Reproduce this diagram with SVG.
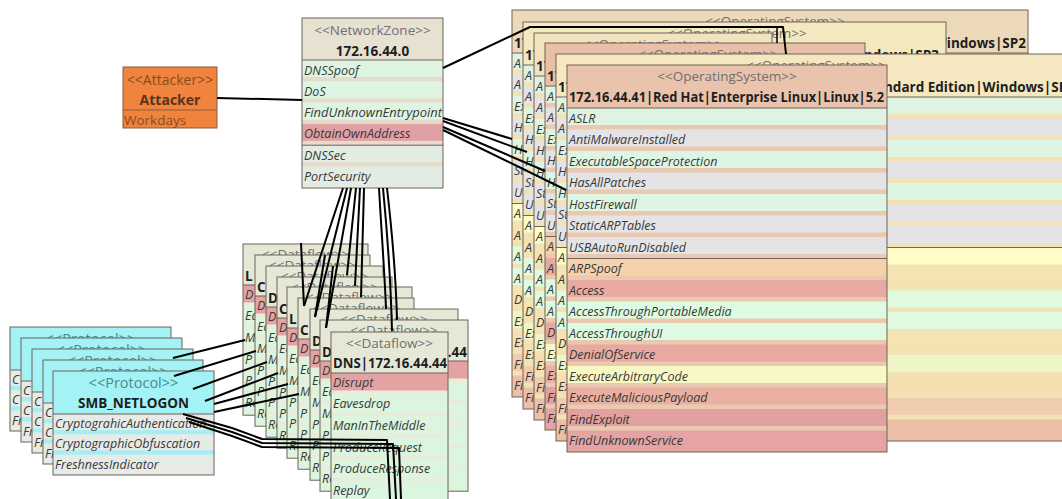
<svg xmlns="http://www.w3.org/2000/svg" width="1062" height="499" viewBox="0 0 1062 499">
<style>
text{font-family:"Open Sans","Noto Sans","DejaVu Sans",sans-serif}
.bd{fill:none;stroke:#6e6259;stroke-width:1}
.dv{stroke:#6e6259;stroke-width:1}
.st{font-size:13.5px;fill:#707070;text-anchor:middle}
.nm{font-size:13.5px;font-weight:bold;fill:#1e1e1e}
.ri{font-size:12.5px;font-style:italic;fill:#383838}
.ln{fill:none;stroke:#000;stroke-width:2;stroke-linejoin:round}
.r0{fill:#dff3e2}.r1,.r3,.r5,.r6{fill:#e4e4e6}.r2,.r4{fill:#dff5e3}
.win .bg{fill:#f2e3b6}.lin .bg{fill:#ebc9b1}
.win .r7{fill:#fffcc6}.win .r8,.win .r11{fill:#f5e3b2}.win .r9,.win .r10{fill:#dffadf}.win .r12{fill:#eef6c8}.win .r13{fill:#f5deb0}.win .r14{fill:#f0cdae}.win .r15{fill:#ebbfa8}
.lin .r7{fill:#f3d2ac}.lin .r8,.lin .r11{fill:#e8aaa0}.lin .r9,.lin .r10{fill:#dcfbe2}.lin .r12{fill:#f8f8c4}.lin .r13{fill:#e9b0a2}.lin .r14{fill:#e2a0a0}.lin .r15{fill:#e5a3a3}
.df .bg{fill:#e7ecdb}.df .hd{fill:#e5e8d6}.df .rr{fill:#e3a3a3}.df .rg{fill:#dcf5df}
.pr .bg{fill:#a6eef2}.pr .hd{fill:#a2f2f6}.pr .rw{fill:#e6ebe7}
.pst{font-size:14.5px;fill:#4d8a8a;text-anchor:middle}
</style>
<defs>
<clipPath id="p5clip"><rect x="53" y="371" width="160" height="104"/></clipPath>
<clipPath id="cO1"><rect x="512" y="10" width="516" height="12"/></clipPath>
<clipPath id="cO2"><path d="M523,22 H946 V54 H772 V33 H523 Z"/></clipPath>
<clipPath id="cO3"><rect x="534" y="33" width="238" height="10"/></clipPath>
<clipPath id="cO4"><rect x="545" y="43" width="320" height="11"/></clipPath>
<clipPath id="cO5"><rect x="556" y="54" width="520" height="11"/></clipPath>
<clipPath id="cD1"><rect x="243" y="244" width="125" height="11"/></clipPath>
<clipPath id="cD2"><rect x="255" y="255" width="115" height="11"/></clipPath>
<clipPath id="cD3"><rect x="266" y="266" width="117" height="11"/></clipPath>
<clipPath id="cD4"><rect x="277" y="277" width="115" height="10"/></clipPath>
<clipPath id="cD5"><rect x="287" y="287" width="125" height="11"/></clipPath>
<clipPath id="cD6"><rect x="298" y="298" width="116" height="11"/></clipPath>
<clipPath id="cD7"><rect x="310" y="309" width="148" height="11"/></clipPath>
<clipPath id="cD8"><rect x="320" y="320" width="148" height="12"/></clipPath>
<clipPath id="cP1"><rect x="10" y="327" width="161" height="11"/></clipPath>
<clipPath id="cP2"><rect x="21" y="338" width="161" height="11"/></clipPath>
<clipPath id="cP3"><rect x="32" y="349" width="161" height="11"/></clipPath>
<clipPath id="cP4"><rect x="43" y="360" width="160" height="11"/></clipPath>
</defs>
<rect width="1062" height="499" fill="#fff"/>

<g id="os1" class="win">
<rect class="bg" x="512" y="10" width="516" height="387"/>
<rect x="512" y="10" width="516" height="43" fill="#ecd9ba"/>
<rect class="r0" x="512" y="53" width="516" height="17"/>
<rect class="r1" x="512" y="74.5" width="516" height="17"/>
<rect class="r2" x="512" y="96" width="516" height="17"/>
<rect class="r3" x="512" y="117.5" width="516" height="17"/>
<rect class="r4" x="512" y="139" width="516" height="17"/>
<rect class="r5" x="512" y="160.5" width="516" height="17"/>
<rect class="r6" x="512" y="182" width="516" height="17"/>
<rect class="r7" x="512" y="203.5" width="516" height="17"/>
<rect class="r8" x="512" y="225" width="516" height="17"/>
<rect class="r9" x="512" y="246.5" width="516" height="17"/>
<rect class="r10" x="512" y="268" width="516" height="17"/>
<rect class="r11" x="512" y="289.5" width="516" height="17"/>
<rect class="r12" x="512" y="311" width="516" height="17"/>
<rect class="r13" x="512" y="332.5" width="516" height="17"/>
<rect class="r14" x="512" y="354" width="516" height="17"/>
<rect class="r15" x="512" y="375.5" width="516" height="21.5"/>
<line class="dv" x1="512" y1="53" x2="1028" y2="53"/>
<line class="dv" x1="512" y1="203.5" x2="1028" y2="203.5"/>
<rect class="bd" x="512" y="10" width="516" height="387"/>
<text class="st" x="775" y="26" font-size="14" clip-path="url(#cO1)">&lt;&lt;OperatingSystem&gt;&gt;</text>
<text class="nm" x="514" y="48">17</text>
<text class="nm" x="1026" y="48" text-anchor="end" font-size="14">Windows|SP2</text>
<text class="ri" x="514" y="67.5">A</text><text class="ri" x="514" y="89">A</text><text class="ri" x="514" y="110.5">Ex</text><text class="ri" x="514" y="132">H</text><text class="ri" x="514" y="153.5">H</text><text class="ri" x="514" y="175">St</text><text class="ri" x="514" y="196.5">U</text><text class="ri" x="514" y="218">A</text><text class="ri" x="514" y="239.5">A</text><text class="ri" x="514" y="261">A</text><text class="ri" x="514" y="282.5">A</text><text class="ri" x="514" y="304">D</text><text class="ri" x="514" y="325.5">Ex</text><text class="ri" x="514" y="347">Ex</text><text class="ri" x="514" y="368.5">Fi</text><text class="ri" x="514" y="390">Fi</text>
</g>

<g id="os2" class="win">
<rect class="bg" x="523" y="22" width="423" height="387"/>
<rect x="523" y="22" width="423" height="43" fill="#f4e8bf"/>
<rect class="r0" x="523" y="65" width="423" height="17"/>
<rect class="r1" x="523" y="86.5" width="423" height="17"/>
<rect class="r2" x="523" y="108" width="423" height="17"/>
<rect class="r3" x="523" y="129.5" width="423" height="17"/>
<rect class="r4" x="523" y="151" width="423" height="17"/>
<rect class="r5" x="523" y="172.5" width="423" height="17"/>
<rect class="r6" x="523" y="194" width="423" height="17"/>
<rect class="r7" x="523" y="215.5" width="423" height="17"/>
<rect class="r8" x="523" y="237" width="423" height="17"/>
<rect class="r9" x="523" y="258.5" width="423" height="17"/>
<rect class="r10" x="523" y="280" width="423" height="17"/>
<rect class="r11" x="523" y="301.5" width="423" height="17"/>
<rect class="r12" x="523" y="323" width="423" height="17"/>
<rect class="r13" x="523" y="344.5" width="423" height="17"/>
<rect class="r14" x="523" y="366" width="423" height="17"/>
<rect class="r15" x="523" y="387.5" width="423" height="21.5"/>
<line class="dv" x1="523" y1="65" x2="946" y2="65"/>
<line class="dv" x1="523" y1="215.5" x2="946" y2="215.5"/>
<rect class="bd" x="523" y="22" width="423" height="387"/>
<text class="st" x="737" y="38" font-size="14" clip-path="url(#cO2)">&lt;&lt;OperatingSystem&gt;&gt;</text>
<text class="nm" x="525" y="60">17</text>
<text class="nm" x="939" y="60" text-anchor="end" font-size="14">Windows|SP3</text>
<text class="ri" x="525" y="79.5">A</text><text class="ri" x="525" y="101">A</text><text class="ri" x="525" y="122.5">Ex</text><text class="ri" x="525" y="144">H</text><text class="ri" x="525" y="165.5">H</text><text class="ri" x="525" y="187">St</text><text class="ri" x="525" y="208.5">U</text><text class="ri" x="525" y="230">A</text><text class="ri" x="525" y="251.5">A</text><text class="ri" x="525" y="273">A</text><text class="ri" x="525" y="294.5">A</text><text class="ri" x="525" y="316">D</text><text class="ri" x="525" y="337.5">Ex</text><text class="ri" x="525" y="359">Ex</text><text class="ri" x="525" y="380.5">Fi</text><text class="ri" x="525" y="402">Fi</text>
</g>

<g id="os3" class="win">
<rect class="bg" x="534" y="33" width="238" height="387"/>
<rect x="534" y="33" width="238" height="43" fill="#f1e3bd"/>
<rect class="r0" x="534" y="76" width="238" height="17"/>
<rect class="r1" x="534" y="97.5" width="238" height="17"/>
<rect class="r2" x="534" y="119" width="238" height="17"/>
<rect class="r3" x="534" y="140.5" width="238" height="17"/>
<rect class="r4" x="534" y="162" width="238" height="17"/>
<rect class="r5" x="534" y="183.5" width="238" height="17"/>
<rect class="r6" x="534" y="205" width="238" height="17"/>
<rect class="r7" x="534" y="226.5" width="238" height="17"/>
<rect class="r8" x="534" y="248" width="238" height="17"/>
<rect class="r9" x="534" y="269.5" width="238" height="17"/>
<rect class="r10" x="534" y="291" width="238" height="17"/>
<rect class="r11" x="534" y="312.5" width="238" height="17"/>
<rect class="r12" x="534" y="334" width="238" height="17"/>
<rect class="r13" x="534" y="355.5" width="238" height="17"/>
<rect class="r14" x="534" y="377" width="238" height="17"/>
<rect class="r15" x="534" y="398.5" width="238" height="21.5"/>
<line class="dv" x1="534" y1="76" x2="772" y2="76"/>
<line class="dv" x1="534" y1="226.5" x2="772" y2="226.5"/>
<rect class="bd" x="534" y="33" width="238" height="387"/>
<text class="st" x="653" y="49" font-size="14" clip-path="url(#cO3)">&lt;&lt;OperatingSystem&gt;&gt;</text>
<text class="nm" x="536" y="71">17</text>
<text class="ri" x="536" y="90.5">A</text><text class="ri" x="536" y="112">A</text><text class="ri" x="536" y="133.5">Ex</text><text class="ri" x="536" y="155">H</text><text class="ri" x="536" y="176.5">H</text><text class="ri" x="536" y="198">St</text><text class="ri" x="536" y="219.5">U</text><text class="ri" x="536" y="241">A</text><text class="ri" x="536" y="262.5">A</text><text class="ri" x="536" y="284">A</text><text class="ri" x="536" y="305.5">A</text><text class="ri" x="536" y="327">D</text><text class="ri" x="536" y="348.5">Ex</text><text class="ri" x="536" y="370">Ex</text><text class="ri" x="536" y="391.5">Fi</text><text class="ri" x="536" y="413">Fi</text>
</g>

<g id="os4" class="lin">
<rect class="bg" x="545" y="43" width="320" height="387"/>
<rect x="545" y="43" width="320" height="43" fill="#e8c0a8"/>
<rect class="r0" x="545" y="86" width="320" height="17"/>
<rect class="r1" x="545" y="107.5" width="320" height="17"/>
<rect class="r2" x="545" y="129" width="320" height="17"/>
<rect class="r3" x="545" y="150.5" width="320" height="17"/>
<rect class="r4" x="545" y="172" width="320" height="17"/>
<rect class="r5" x="545" y="193.5" width="320" height="17"/>
<rect class="r6" x="545" y="215" width="320" height="17"/>
<rect class="r7" x="545" y="236.5" width="320" height="17"/>
<rect class="r8" x="545" y="258" width="320" height="17"/>
<rect class="r9" x="545" y="279.5" width="320" height="17"/>
<rect class="r10" x="545" y="301" width="320" height="17"/>
<rect class="r11" x="545" y="322.5" width="320" height="17"/>
<rect class="r12" x="545" y="344" width="320" height="17"/>
<rect class="r13" x="545" y="365.5" width="320" height="17"/>
<rect class="r14" x="545" y="387" width="320" height="17"/>
<rect class="r15" x="545" y="408.5" width="320" height="21.5"/>
<line class="dv" x1="545" y1="86" x2="865" y2="86"/>
<line class="dv" x1="545" y1="236.5" x2="865" y2="236.5"/>
<rect class="bd" x="545" y="43" width="320" height="387"/>
<text class="st" x="708" y="59" font-size="14" clip-path="url(#cO4)">&lt;&lt;OperatingSystem&gt;&gt;</text>
<text class="nm" x="547" y="81">17</text>
<text class="ri" x="547" y="100.5">A</text><text class="ri" x="547" y="122">A</text><text class="ri" x="547" y="143.5">Ex</text><text class="ri" x="547" y="165">H</text><text class="ri" x="547" y="186.5">H</text><text class="ri" x="547" y="208">St</text><text class="ri" x="547" y="229.5">U</text><text class="ri" x="547" y="251">A</text><text class="ri" x="547" y="272.5">A</text><text class="ri" x="547" y="294">A</text><text class="ri" x="547" y="315.5">A</text><text class="ri" x="547" y="337">D</text><text class="ri" x="547" y="358.5">Ex</text><text class="ri" x="547" y="380">Ex</text><text class="ri" x="547" y="401.5">Fi</text><text class="ri" x="547" y="423">Fi</text>
</g>

<g id="os5" class="win">
<rect class="bg" x="556" y="54" width="520" height="387"/>
<rect x="556" y="54" width="520" height="43" fill="#f5e8c0"/>
<rect class="r0" x="556" y="97" width="520" height="17"/>
<rect class="r1" x="556" y="118.5" width="520" height="17"/>
<rect class="r2" x="556" y="140" width="520" height="17"/>
<rect class="r3" x="556" y="161.5" width="520" height="17"/>
<rect class="r4" x="556" y="183" width="520" height="17"/>
<rect class="r5" x="556" y="204.5" width="520" height="17"/>
<rect class="r6" x="556" y="226" width="520" height="17"/>
<rect class="r7" x="556" y="247.5" width="520" height="17"/>
<rect class="r8" x="556" y="269" width="520" height="17"/>
<rect class="r9" x="556" y="290.5" width="520" height="17"/>
<rect class="r10" x="556" y="312" width="520" height="17"/>
<rect class="r11" x="556" y="333.5" width="520" height="17"/>
<rect class="r12" x="556" y="355" width="520" height="17"/>
<rect class="r13" x="556" y="376.5" width="520" height="17"/>
<rect class="r14" x="556" y="398" width="520" height="17"/>
<rect class="r15" x="556" y="419.5" width="520" height="21.5"/>
<line class="dv" x1="556" y1="97" x2="1076" y2="97"/>
<line class="dv" x1="556" y1="247.5" x2="1076" y2="247.5"/>
<rect class="bd" x="556" y="54" width="520" height="387"/>
<text class="st" x="816" y="70" font-size="14" clip-path="url(#cO5)">&lt;&lt;OperatingSystem&gt;&gt;</text>
<text class="nm" x="558" y="92">17</text>
<text class="nm" x="884" y="92" font-size="14.5">ndard Edition|Windows|SP</text>
<text class="ri" x="558" y="111.5">A</text><text class="ri" x="558" y="133">A</text><text class="ri" x="558" y="154.5">Ex</text><text class="ri" x="558" y="176">H</text><text class="ri" x="558" y="197.5">H</text><text class="ri" x="558" y="219">St</text><text class="ri" x="558" y="240.5">U</text><text class="ri" x="558" y="262">A</text><text class="ri" x="558" y="283.5">A</text><text class="ri" x="558" y="305">A</text><text class="ri" x="558" y="326.5">A</text><text class="ri" x="558" y="348">D</text><text class="ri" x="558" y="369.5">Ex</text><text class="ri" x="558" y="391">Ex</text><text class="ri" x="558" y="412.5">Fi</text><text class="ri" x="558" y="434">Fi</text>
</g>

<g id="os-main" class="lin">
<rect class="bg" x="567" y="65" width="320" height="387"/>
<rect x="567" y="65" width="320" height="43" fill="#e9c3ab"/>
<rect class="r0" x="567" y="108" width="320" height="17"/>
<rect class="r1" x="567" y="129.5" width="320" height="17"/>
<rect class="r2" x="567" y="151" width="320" height="17"/>
<rect class="r3" x="567" y="172.5" width="320" height="17"/>
<rect class="r4" x="567" y="194" width="320" height="17"/>
<rect class="r5" x="567" y="215.5" width="320" height="17"/>
<rect class="r6" x="567" y="237" width="320" height="17"/>
<rect class="r7" x="567" y="258.5" width="320" height="17"/>
<rect class="r8" x="567" y="280" width="320" height="17"/>
<rect class="r9" x="567" y="301.5" width="320" height="17"/>
<rect class="r10" x="567" y="323" width="320" height="17"/>
<rect class="r11" x="567" y="344.5" width="320" height="17"/>
<rect class="r12" x="567" y="366" width="320" height="17"/>
<rect class="r13" x="567" y="387.5" width="320" height="17"/>
<rect class="r14" x="567" y="409" width="320" height="17"/>
<rect class="r15" x="567" y="430.5" width="320" height="21.5"/>
<line class="dv" x1="567" y1="108" x2="887" y2="108"/>
<line class="dv" x1="567" y1="258.5" x2="887" y2="258.5"/>
<rect class="bd" x="567" y="65" width="320" height="387" stroke="#4e4540"/>
<text class="st" x="727" y="81" font-size="14.5">&lt;&lt;OperatingSystem&gt;&gt;</text>
<text class="nm" x="569" y="102" font-size="14" textLength="315" lengthAdjust="spacingAndGlyphs">172.16.44.41|Red Hat|Enterprise Linux|Linux|5.2</text>
<text class="ri" x="569" y="122.5">ASLR</text>
<text class="ri" x="569" y="144">AntiMalwareInstalled</text>
<text class="ri" x="569" y="165.5">ExecutableSpaceProtection</text>
<text class="ri" x="569" y="187">HasAllPatches</text>
<text class="ri" x="569" y="208.5">HostFirewall</text>
<text class="ri" x="569" y="230">StaticARPTables</text>
<text class="ri" x="569" y="251.5">USBAutoRunDisabled</text>
<text class="ri" x="569" y="273">ARPSpoof</text>
<text class="ri" x="569" y="294.5">Access</text>
<text class="ri" x="569" y="316">AccessThroughPortableMedia</text>
<text class="ri" x="569" y="337.5">AccessThroughUI</text>
<text class="ri" x="569" y="359">DenialOfService</text>
<text class="ri" x="569" y="380.5">ExecuteArbitraryCode</text>
<text class="ri" x="569" y="402">ExecuteMaliciousPayload</text>
<text class="ri" x="569" y="423.5">FindExploit</text>
<text class="ri" x="569" y="445">FindUnknownService</text>
</g>

<g id="df1" class="df">
<rect class="bg" x="243" y="244" width="125" height="171.2"/><rect class="hd" x="243" y="244" width="125" height="41"/>
<rect class="rr" x="243" y="285" width="125" height="17.5"/><rect class="rg" x="243" y="306.7" width="125" height="17.5"/><rect class="rg" x="243" y="328.4" width="125" height="17.5"/><rect class="rg" x="243" y="350.1" width="125" height="17.5"/><rect class="rg" x="243" y="371.8" width="125" height="17.5"/><rect class="rg" x="243" y="393.5" width="125" height="21.7"/>
<line class="dv" x1="243" y1="285" x2="368" y2="285"/><rect class="bd" x="243" y="244" width="125" height="171.2"/>
<text class="st" x="305.5" y="259" font-size="14" clip-path="url(#cD1)">&lt;&lt;Dataflow&gt;&gt;</text><text class="nm" x="245" y="281" font-size="14.5">L</text>
<text class="ri" x="245" y="298.5">D</text><text class="ri" x="245" y="320.2">Ea</text><text class="ri" x="245" y="341.9">M</text><text class="ri" x="245" y="363.6">P</text><text class="ri" x="245" y="385.3">P</text><text class="ri" x="245" y="407">Re</text>
</g>
<g id="df2" class="df">
<rect class="bg" x="255" y="255" width="115" height="171.2"/><rect class="hd" x="255" y="255" width="115" height="41"/>
<rect class="rr" x="255" y="296" width="115" height="17.5"/><rect class="rg" x="255" y="317.7" width="115" height="17.5"/><rect class="rg" x="255" y="339.4" width="115" height="17.5"/><rect class="rg" x="255" y="361.1" width="115" height="17.5"/><rect class="rg" x="255" y="382.8" width="115" height="17.5"/><rect class="rg" x="255" y="404.5" width="115" height="21.7"/>
<line class="dv" x1="255" y1="296" x2="370" y2="296"/><rect class="bd" x="255" y="255" width="115" height="171.2"/>
<text class="st" x="312.5" y="270" font-size="14" clip-path="url(#cD2)">&lt;&lt;Dataflow&gt;&gt;</text><text class="nm" x="257" y="292" font-size="14.5">C</text>
<text class="ri" x="257" y="309.5">D</text><text class="ri" x="257" y="331.2">Ea</text><text class="ri" x="257" y="352.9">M</text><text class="ri" x="257" y="374.6">P</text><text class="ri" x="257" y="396.3">P</text><text class="ri" x="257" y="418">Re</text>
</g>
<g id="df3" class="df">
<rect class="bg" x="266" y="266" width="117" height="171.2"/><rect class="hd" x="266" y="266" width="117" height="41"/>
<rect class="rr" x="266" y="307" width="117" height="17.5"/><rect class="rg" x="266" y="328.7" width="117" height="17.5"/><rect class="rg" x="266" y="350.4" width="117" height="17.5"/><rect class="rg" x="266" y="372.1" width="117" height="17.5"/><rect class="rg" x="266" y="393.8" width="117" height="17.5"/><rect class="rg" x="266" y="415.5" width="117" height="21.7"/>
<line class="dv" x1="266" y1="307" x2="383" y2="307"/><rect class="bd" x="266" y="266" width="117" height="171.2"/>
<text class="st" x="324.5" y="281" font-size="14" clip-path="url(#cD3)">&lt;&lt;Dataflow&gt;&gt;</text><text class="nm" x="268" y="303" font-size="14.5">D</text>
<text class="ri" x="268" y="320.5">D</text><text class="ri" x="268" y="342.2">Ea</text><text class="ri" x="268" y="363.9">M</text><text class="ri" x="268" y="385.6">P</text><text class="ri" x="268" y="407.3">P</text><text class="ri" x="268" y="429">Re</text>
</g>
<g id="df4" class="df">
<rect class="bg" x="277" y="277" width="115" height="171.2"/><rect class="hd" x="277" y="277" width="115" height="41"/>
<rect class="rr" x="277" y="318" width="115" height="17.5"/><rect class="rg" x="277" y="339.7" width="115" height="17.5"/><rect class="rg" x="277" y="361.4" width="115" height="17.5"/><rect class="rg" x="277" y="383.1" width="115" height="17.5"/><rect class="rg" x="277" y="404.8" width="115" height="17.5"/><rect class="rg" x="277" y="426.5" width="115" height="21.7"/>
<line class="dv" x1="277" y1="318" x2="392" y2="318"/><rect class="bd" x="277" y="277" width="115" height="171.2"/>
<text class="st" x="334.5" y="292" font-size="14" clip-path="url(#cD4)">&lt;&lt;Dataflow&gt;&gt;</text><text class="nm" x="279" y="314" font-size="14.5">C</text>
<text class="ri" x="279" y="331.5">D</text><text class="ri" x="279" y="353.2">Ea</text><text class="ri" x="279" y="374.9">M</text><text class="ri" x="279" y="396.6">P</text><text class="ri" x="279" y="418.3">P</text><text class="ri" x="279" y="440">Re</text>
</g>
<g id="df5" class="df">
<rect class="bg" x="287" y="287" width="125" height="171.2"/><rect class="hd" x="287" y="287" width="125" height="41"/>
<rect class="rr" x="287" y="328" width="125" height="17.5"/><rect class="rg" x="287" y="349.7" width="125" height="17.5"/><rect class="rg" x="287" y="371.4" width="125" height="17.5"/><rect class="rg" x="287" y="393.1" width="125" height="17.5"/><rect class="rg" x="287" y="414.8" width="125" height="17.5"/><rect class="rg" x="287" y="436.5" width="125" height="21.7"/>
<line class="dv" x1="287" y1="328" x2="412" y2="328"/><rect class="bd" x="287" y="287" width="125" height="171.2"/>
<text class="st" x="349.5" y="302" font-size="14" clip-path="url(#cD5)">&lt;&lt;Dataflow&gt;&gt;</text><text class="nm" x="289" y="324" font-size="14.5">L</text>
<text class="ri" x="289" y="341.5">D</text><text class="ri" x="289" y="363.2">Ea</text><text class="ri" x="289" y="384.9">M</text><text class="ri" x="289" y="406.6">P</text><text class="ri" x="289" y="428.3">P</text><text class="ri" x="289" y="450">Re</text>
</g>
<g id="df6" class="df">
<rect class="bg" x="298" y="298" width="116" height="171.2"/><rect class="hd" x="298" y="298" width="116" height="41"/>
<rect class="rr" x="298" y="339" width="116" height="17.5"/><rect class="rg" x="298" y="360.7" width="116" height="17.5"/><rect class="rg" x="298" y="382.4" width="116" height="17.5"/><rect class="rg" x="298" y="404.1" width="116" height="17.5"/><rect class="rg" x="298" y="425.8" width="116" height="17.5"/><rect class="rg" x="298" y="447.5" width="116" height="21.7"/>
<line class="dv" x1="298" y1="339" x2="414" y2="339"/><rect class="bd" x="298" y="298" width="116" height="171.2"/>
<text class="st" x="356" y="313" font-size="14" clip-path="url(#cD6)">&lt;&lt;Dataflow&gt;&gt;</text><text class="nm" x="300" y="335" font-size="14.5">C</text>
<text class="ri" x="300" y="352.5">D</text><text class="ri" x="300" y="374.2">Ea</text><text class="ri" x="300" y="395.9">M</text><text class="ri" x="300" y="417.6">P</text><text class="ri" x="300" y="439.3">P</text><text class="ri" x="300" y="461">Re</text>
</g>
<g id="df7" class="df">
<rect class="bg" x="310" y="309" width="148" height="171.2"/><rect class="hd" x="310" y="309" width="148" height="41"/>
<rect class="rr" x="310" y="350" width="148" height="17.5"/><rect class="rg" x="310" y="371.7" width="148" height="17.5"/><rect class="rg" x="310" y="393.4" width="148" height="17.5"/><rect class="rg" x="310" y="415.1" width="148" height="17.5"/><rect class="rg" x="310" y="436.8" width="148" height="17.5"/><rect class="rg" x="310" y="458.5" width="148" height="21.7"/>
<line class="dv" x1="310" y1="350" x2="458" y2="350"/><rect class="bd" x="310" y="309" width="148" height="171.2"/>
<text class="st" x="384" y="324" font-size="14" clip-path="url(#cD7)">&lt;&lt;Dataflow&gt;&gt;</text><text class="nm" x="312" y="346" font-size="14.5">D</text>
<text class="ri" x="312" y="363.5">D</text><text class="ri" x="312" y="385.2">Ea</text><text class="ri" x="312" y="406.9">M</text><text class="ri" x="312" y="428.6">P</text><text class="ri" x="312" y="450.3">P</text><text class="ri" x="312" y="472">Re</text>
</g>
<g id="df8" class="df">
<rect class="bg" x="320" y="320" width="148" height="171.2"/><rect class="hd" x="320" y="320" width="148" height="41"/>
<rect class="rr" x="320" y="361" width="148" height="17.5"/><rect class="rg" x="320" y="382.7" width="148" height="17.5"/><rect class="rg" x="320" y="404.4" width="148" height="17.5"/><rect class="rg" x="320" y="426.1" width="148" height="17.5"/><rect class="rg" x="320" y="447.8" width="148" height="17.5"/><rect class="rg" x="320" y="469.5" width="148" height="21.7"/>
<line class="dv" x1="320" y1="361" x2="468" y2="361"/><rect class="bd" x="320" y="320" width="148" height="171.2"/>
<text class="st" x="394" y="335" font-size="14" clip-path="url(#cD8)">&lt;&lt;Dataflow&gt;&gt;</text><text class="nm" x="322" y="357" font-size="14.5">D</text><text class="nm" x="467" y="357" font-size="14.5" text-anchor="end">.44</text>
<text class="ri" x="322" y="374.5">D</text><text class="ri" x="322" y="396.2">Ea</text><text class="ri" x="322" y="417.9">M</text><text class="ri" x="322" y="439.6">P</text><text class="ri" x="322" y="461.3">P</text><text class="ri" x="322" y="483">Re</text>
</g>
<g id="df9" class="df">
<rect class="bg" x="331" y="332" width="117" height="171.2"/><rect class="hd" x="331" y="332" width="117" height="41"/>
<rect class="rr" x="331" y="373" width="117" height="17.5"/><rect class="rg" x="331" y="394.7" width="117" height="17.5"/><rect class="rg" x="331" y="416.4" width="117" height="17.5"/><rect class="rg" x="331" y="438.1" width="117" height="17.5"/><rect class="rg" x="331" y="459.8" width="117" height="17.5"/><rect class="rg" x="331" y="481.5" width="117" height="21.7"/>
<line class="dv" x1="331" y1="373" x2="448" y2="373"/><rect class="bd" x="331" y="332" width="117" height="171.2"/>
<text class="st" x="389.5" y="348" font-size="15">&lt;&lt;Dataflow&gt;&gt;</text>
<text class="nm" x="333" y="368" font-size="14.5" textLength="114" lengthAdjust="spacingAndGlyphs">DNS|172.16.44.44</text>
<text class="ri" x="333" y="386.5">Disrupt</text><text class="ri" x="333" y="408.2">Eavesdrop</text><text class="ri" x="333" y="429.9">ManInTheMiddle</text><text class="ri" x="333" y="451.6">ProduceRequest</text><text class="ri" x="333" y="473.3">ProduceResponse</text><text class="ri" x="333" y="495">Replay</text>
</g>

<g id="pr1" class="pr">
<rect class="bg" x="10" y="327" width="161" height="104"/><rect class="hd" x="10" y="327" width="161" height="43"/>
<rect class="rw" x="10" y="370" width="161" height="16"/><rect class="rw" x="10" y="390.3" width="161" height="16"/><rect class="rw" x="10" y="410.6" width="161" height="20.4"/>
<line class="dv" x1="10" y1="370" x2="171" y2="370"/><rect class="bd" x="10" y="327" width="161" height="104"/>
<text class="pst" x="90.5" y="344" clip-path="url(#cP1)">&lt;&lt;Protocol&gt;&gt;</text>
<text class="ri" x="12" y="384">C</text><text class="ri" x="12" y="404.3">C</text><text class="ri" x="12" y="424.6">Fr</text>
</g>
<g id="pr2" class="pr">
<rect class="bg" x="21" y="338" width="161" height="104"/><rect class="hd" x="21" y="338" width="161" height="43"/>
<rect class="rw" x="21" y="381" width="161" height="16"/><rect class="rw" x="21" y="401.3" width="161" height="16"/><rect class="rw" x="21" y="421.6" width="161" height="20.4"/>
<line class="dv" x1="21" y1="381" x2="182" y2="381"/><rect class="bd" x="21" y="338" width="161" height="104"/>
<text class="pst" x="101.5" y="355" clip-path="url(#cP2)">&lt;&lt;Protocol&gt;&gt;</text>
<text class="ri" x="23" y="395">C</text><text class="ri" x="23" y="415.3">C</text><text class="ri" x="23" y="435.6">Fr</text>
</g>
<g id="pr3" class="pr">
<rect class="bg" x="32" y="349" width="161" height="104"/><rect class="hd" x="32" y="349" width="161" height="43"/>
<rect class="rw" x="32" y="392" width="161" height="16"/><rect class="rw" x="32" y="412.3" width="161" height="16"/><rect class="rw" x="32" y="432.6" width="161" height="20.4"/>
<line class="dv" x1="32" y1="392" x2="193" y2="392"/><rect class="bd" x="32" y="349" width="161" height="104"/>
<text class="pst" x="112.5" y="366" clip-path="url(#cP3)">&lt;&lt;Protocol&gt;&gt;</text>
<text class="ri" x="34" y="406">C</text><text class="ri" x="34" y="426.3">C</text><text class="ri" x="34" y="446.6">Fr</text>
</g>
<g id="pr4" class="pr">
<rect class="bg" x="43" y="360" width="160" height="104"/><rect class="hd" x="43" y="360" width="160" height="43"/>
<rect class="rw" x="43" y="403" width="160" height="16"/><rect class="rw" x="43" y="423.3" width="160" height="16"/><rect class="rw" x="43" y="443.6" width="160" height="20.4"/>
<line class="dv" x1="43" y1="403" x2="203" y2="403"/><rect class="bd" x="43" y="360" width="160" height="104"/>
<text class="pst" x="123" y="377" clip-path="url(#cP4)">&lt;&lt;Protocol&gt;&gt;</text>
<text class="ri" x="45" y="417">C</text><text class="ri" x="45" y="437.3">C</text><text class="ri" x="45" y="457.6">Fr</text>
</g>
<g id="pr5" class="pr">
<rect class="bg" x="53" y="371" width="161" height="104"/><rect class="hd" x="53" y="371" width="161" height="43"/>
<rect class="rw" x="53" y="414" width="161" height="16"/><rect class="rw" x="53" y="434.3" width="161" height="16"/><rect class="rw" x="53" y="454.6" width="161" height="20.4"/>
<line class="dv" x1="53" y1="414" x2="214" y2="414"/><rect class="bd" x="53" y="371" width="161" height="104"/>
<text class="pst" x="133.5" y="388">&lt;&lt;Protocol&gt;&gt;</text>
<text class="nm" x="133.5" y="408" font-size="15" text-anchor="middle" fill="#333">SMB_NETLOGON</text>
<text class="ri" x="55" y="428" clip-path="url(#p5clip)">CryptograhicAuthentication</text>
<text class="ri" x="55" y="448.3">CryptographicObfuscation</text>
<text class="ri" x="55" y="468.6">FreshnessIndicator</text>
</g>

<g id="networkzone">
<rect x="302" y="18" width="141" height="170" fill="#e5dccb"/>
<rect x="302" y="18" width="141" height="42" fill="#e6e1d0"/>
<rect x="302" y="60" width="141" height="17" fill="#dff5e3"/>
<rect x="302" y="81.3" width="141" height="17" fill="#dff5e3"/>
<rect x="302" y="102.6" width="141" height="17" fill="#dff5e3"/>
<rect x="302" y="123.9" width="141" height="17" fill="#e1a1a4"/>
<rect x="302" y="145.2" width="141" height="17" fill="#e3ece3"/>
<rect x="302" y="166.5" width="141" height="21.5" fill="#e3ece3"/>
<line class="dv" x1="302" y1="60" x2="443" y2="60"/>
<line class="dv" x1="302" y1="145.2" x2="443" y2="145.2"/>
<rect class="bd" x="302" y="18" width="141" height="170"/>
<text class="st" x="372.5" y="35" font-size="14">&lt;&lt;NetworkZone&gt;&gt;</text>
<text class="nm" x="372.5" y="56" text-anchor="middle" font-size="14">172.16.44.0</text>
<text class="ri" x="304" y="74.5">DNSSpoof</text>
<text class="ri" x="304" y="95.8">DoS</text>
<text class="ri" x="304" y="117.1" textLength="138" lengthAdjust="spacingAndGlyphs">FindUnknownEntrypoint</text>
<text class="ri" x="304" y="138.4" fill="#4a2a2a">ObtainOwnAddress</text>
<text class="ri" x="304" y="159.7">DNSSec</text>
<text class="ri" x="304" y="181">PortSecurity</text>
</g>

<g id="attacker">
<rect x="123" y="67" width="94" height="61" fill="#f0843e" stroke="#8b5a3a"/>
<line x1="123" y1="110" x2="217" y2="110" stroke="#8b5a3a"/>
<text x="170" y="84.5" font-size="14" text-anchor="middle" fill="#8a4b1e">&lt;&lt;Attacker&gt;&gt;</text>
<text x="170" y="105" font-size="14" font-weight="bold" text-anchor="middle" fill="#5a3318">Attacker</text>
<text x="124" y="124.5" font-size="13.5" fill="#8a4b1e">Workdays</text>
</g>

<g id="connectors" class="ln">
<path d="M217,98 L302,100"/>
<path d="M443,68 L530,27 L783,27 L786,54"/>
<path d="M777,28 L777,43" stroke-width="1.5"/>
<path d="M443,118 L512,139"/>
<path d="M443,121 L527,152"/>
<path d="M443,127 L545,171"/>
<path d="M443,130 L566,190"/>
<path d="M343,188 L304,306"/>
<path d="M347,188 L315,317"/>
<path d="M351,188 L326,328"/>
<path d="M356,188 L347,275"/>
<path d="M360,188 L355,286"/>
<path d="M364,188 L361,297"/>
<path d="M301,243 L304,306"/>
<path d="M325,255 L315,317"/>
<path d="M333,266 L326,328"/>
<path d="M379,188 C382,240 385,280 386,309"/>
<path d="M383,188 C388,240 391,290 392,331"/>
<path d="M387,188 C393,240 396,280 397,320"/>
<path d="M173,358 L245,340"/>
<path d="M174,376 L256,351"/>
<path d="M193,389 L267,362"/>
<path d="M205,401 L278,373"/>
<path d="M214,404 L288,384"/>
<path d="M214,412 L299,394"/>
<path d="M183,414 L232,428 L262,439 L387,440 L390,499"/>
<path d="M186,418 L232,432 L262,443 L393,444 L396,499"/>
<path d="M189,422 L232,436 L262,447 L399,448 L401,499"/>
</g>
</svg>
